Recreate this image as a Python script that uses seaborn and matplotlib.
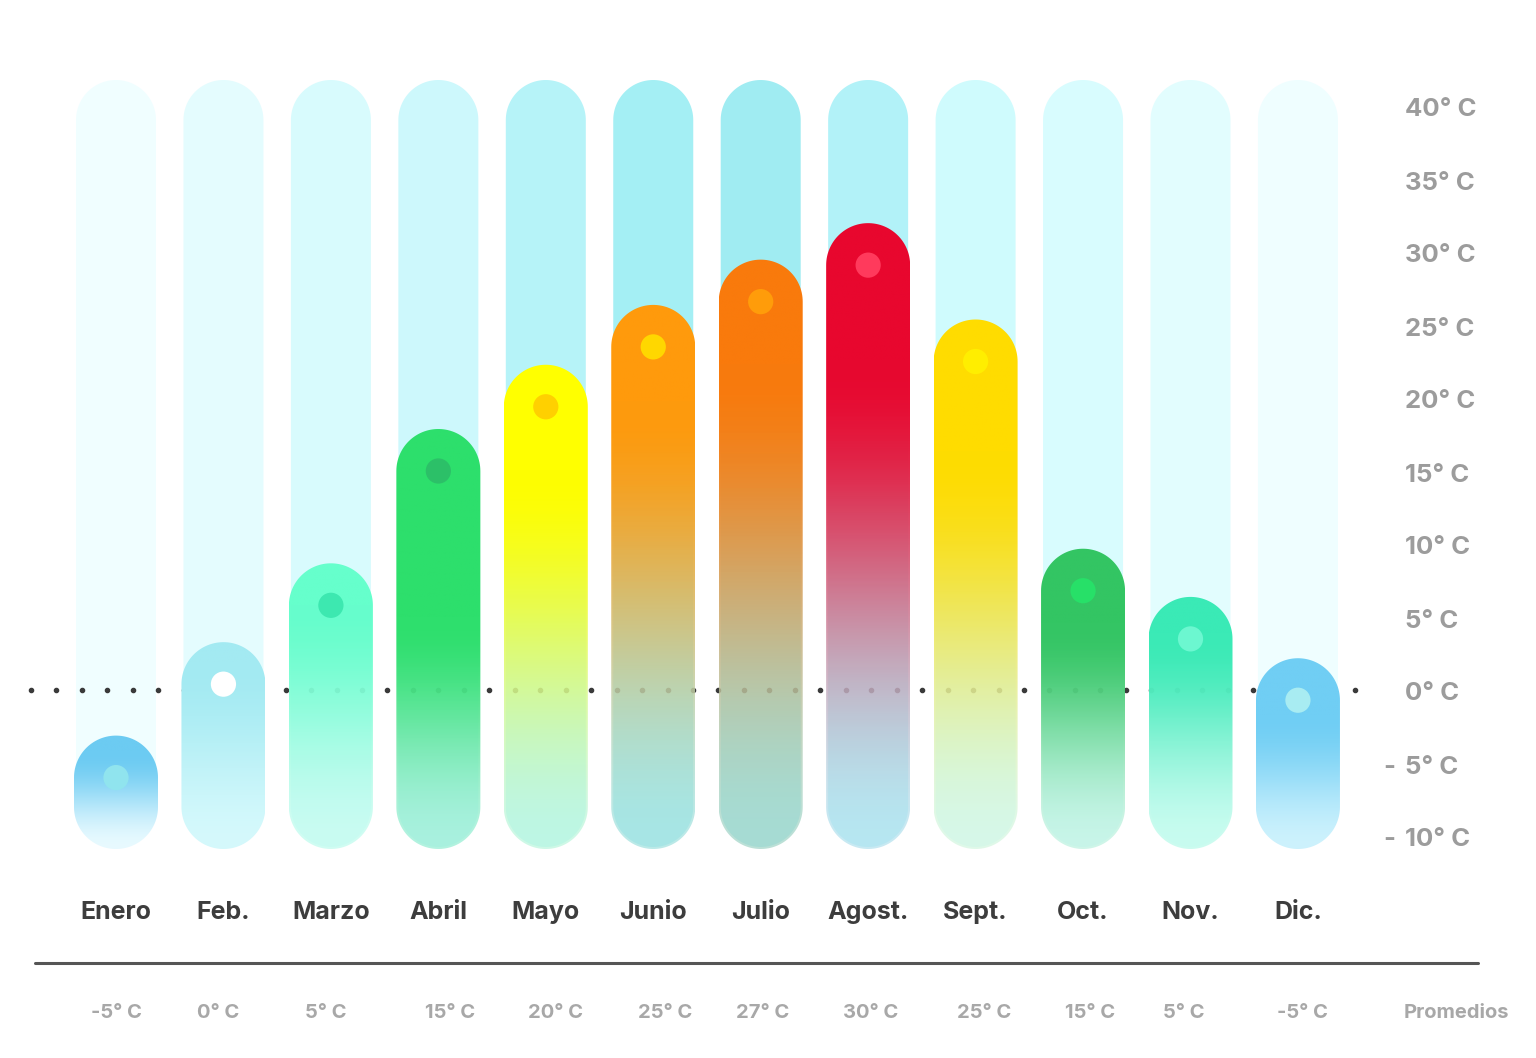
import numpy as np
import pandas as pd
import matplotlib
matplotlib.use("Agg")
import matplotlib.pyplot as plt
from matplotlib.path import Path
from matplotlib.patches import PathPatch
from matplotlib.colors import to_rgb
import seaborn as sns

# ---- data ----
meses = ["Enero", "Feb.", "Marzo", "Abril", "Mayo", "Junio",
         "Julio", "Agost.", "Sept.", "Oct.", "Nov.", "Dic."]
temperaturas = [-6.0, 0.4, 5.8, 15.0, 19.4, 23.5, 26.6, 29.1, 22.5, 6.8, 3.5, -0.7]
promedios = ["-5° C", "0° C", "5° C", "15° C", "20° C", "25° C",
             "27° C", "30° C", "25° C", "15° C", "5° C", "-5° C"]
escala = [40, 35, 30, 25, 20, 15, 10, 5, 0, -5, -10]

# ---- styles ----
fondo = ["#f0feff", "#e4fcfe", "#d8fbfd", "#cdf8fc", "#b6f3f8", "#a4eff4",
         "#a0ecf2", "#b2f2f8", "#cffbfd", "#d8fcfe", "#e2fdfe", "#effeff"]
color_arriba = ["#6ccbf2", "#a3eaf2", "#66ffcc", "#2ddf6c", "#ffff00", "#ff9a0c",
                "#f97a0c", "#e8072e", "#ffdc00", "#33c563", "#3aeab6", "#70cef4"]
color_abajo = ["#e8faff", "#d5f9fc", "#c6fcf0", "#a0f0d8", "#c0f7e0", "#a8e4e2",
               "#a8d8cc", "#b8e4f0", "#d8f8e4", "#c4f4e4", "#c4fcee", "#cdf2fd"]
retencion = [0.15, 0.1, 0.15, 0.45, 0.22, 0.18, 0.18, 0.22, 0.25, 0.25, 0.15, 0.3]
opacidad = [1.0, 1.0, 0.8, 0.8, 0.78, 0.78, 0.78, 0.78, 0.8, 0.8, 0.85, 1.0]
color_punto = ["#90e4ee", "#ffffff", "#3de8b0", "#2cc068", "#ffd000", "#ffd700",
               "#ff9c0a", "#ff3a5c", "#ffee00", "#27e068", "#6cf7d0", "#a8ecf2"]
desplaza_prom = [0, -5, -5, 12, 10, 12, 2, 2, 9, 7, -7, 4]  # px

W, H = 1536, 1058
PX_X = 107.45   # px per month
PX_Y = 14.6     # px per degree
X0_PX, Y0_PX = 116, 690


def px_x(p):
    return (p - X0_PX) / PX_X


def px_y(p):
    return (Y0_PX - p) / PX_Y


def capsula(xc, hw, y_bot, y_top):
    ry = hw * PX_X / PX_Y
    t1 = np.linspace(0, np.pi, 60)
    t2 = np.linspace(np.pi, 2 * np.pi, 60)
    xs = np.concatenate([xc + hw * np.cos(t1), xc + hw * np.cos(t2)])
    ys = np.concatenate([(y_top - ry) + ry * np.sin(t1), (y_bot + ry) + ry * np.sin(t2)])
    verts = np.column_stack([xs, ys])
    verts = np.vstack([verts, verts[:1]])
    codes = [Path.MOVETO] + [Path.LINETO] * (len(verts) - 2) + [Path.CLOSEPOLY]
    return Path(verts, codes)


sns.set_theme(style="white")
plt.rcParams["font.family"] = ["Inter", "DejaVu Sans"]

fig = plt.figure(figsize=(W / 100, H / 100), dpi=100)
ax = fig.add_axes([0, 0, 1, 1])

hw_bg = 40 / PX_X
hw_fg = 42 / PX_X
ry_fg = hw_fg * PX_X / PX_Y
fondo_top, fondo_bot = px_y(80), px_y(847)
barra_bot = px_y(849)

df = pd.DataFrame({"mes": meses, "pos": np.arange(len(meses)), "temp": temperaturas})

for i, row in df.iterrows():
    x = row["pos"]
    # background capsule
    ax.add_patch(PathPatch(capsula(x, hw_bg, fondo_bot, fondo_top),
                           facecolor=fondo[i], edgecolor="none", zorder=1))
    # coloured gradient capsule
    top = row["temp"] + ry_fg
    path = capsula(x, hw_fg, barra_bot, top)
    n = 400
    f = np.linspace(0, 1, n)
    t = np.clip((f - retencion[i]) / (1 - retencion[i]), 0, 1)
    t = (t * t * (3 - 2 * t))[:, None]
    c0 = np.array(to_rgb(color_arriba[i]))
    c1 = np.array(to_rgb(color_abajo[i]))
    rgb = c0 * (1 - t) + c1 * t
    alpha = 1 - (1 - opacidad[i]) * t
    rgba = np.concatenate([rgb, alpha], axis=1)[:, None, :]
    im = ax.imshow(rgba, extent=[x - hw_fg, x + hw_fg, barra_bot, top],
                   origin="upper", aspect="auto", zorder=3, interpolation="bilinear")
    clip = PathPatch(path, transform=ax.transData, facecolor="none", edgecolor="none")
    ax.add_patch(clip)
    im.set_clip_path(clip)

# dotted zero line
xs_line = np.linspace(px_x(31), px_x(1355), 53)
ax.plot(xs_line, np.zeros_like(xs_line), ls="none", marker="o", ms=3.0,
        color="#3a3a3a", zorder=2)

# value dots
sns.scatterplot(data=df, x="pos", y="temp", hue="mes", palette=color_punto,
                s=330, linewidth=0, legend=False, ax=ax, zorder=4)

# right scale labels
for v in escala:
    yb = v - 10.5 / PX_Y
    ax.text(px_x(1405), yb, f"{abs(v)}° C", ha="left", va="baseline",
            fontsize=18.5, fontweight="bold", color="#9c9c9c")
    if v < 0:
        ax.text(px_x(1389), yb, "-", ha="center", va="baseline",
                fontsize=18.5, fontweight="bold", color="#9c9c9c")

# month labels
for i, m in enumerate(meses):
    ax.text(i, px_y(919), m, ha="center", va="baseline", fontsize=18,
            fontweight="bold", color="#3d3d3d")

# separator line
ax.axhline(px_y(963), xmin=35 / W, xmax=1478 / W, color="#555555", lw=2.2)

# averages row
for i, p in enumerate(promedios):
    ax.text(i + desplaza_prom[i] / PX_X, px_y(1018), p, ha="center", va="baseline",
            fontsize=14.5, fontweight="bold", color="#a8a8a8")
ax.text(px_x(1456), px_y(1018), "Promedios", ha="center", va="baseline",
        fontsize=14.5, fontweight="bold", color="#a8a8a8")

ax.set_xlim(px_x(0), px_x(W))
ax.set_ylim(px_y(H), px_y(0))
ax.set_aspect("auto")
ax.axis("off")

fig.savefig("out.png", dpi=100, facecolor="white")
